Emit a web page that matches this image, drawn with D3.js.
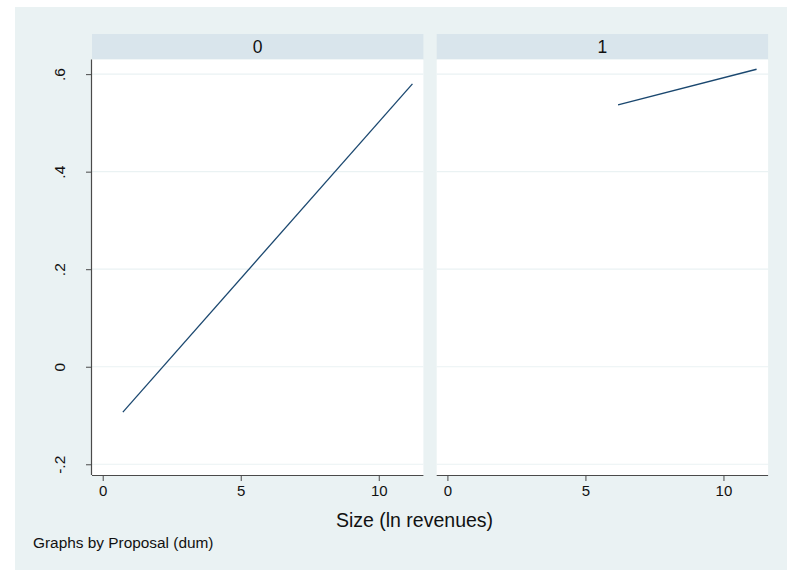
<!DOCTYPE html>
<html>
<head>
<meta charset="utf-8">
<script src="https://cdn.jsdelivr.net/npm/d3@7"></script>
<style>
  html, body { margin: 0; padding: 0; background: #ffffff; }
  svg { display: block; font-family: Arial, "Liberation Sans", Helvetica, sans-serif; }
</style>
</head>
<body>
<svg id="chart" width="787" height="570"></svg>
<script>
// ---- data ----
const panelLabels = ["0", "1"];
const lineX = [[0.73, 11.22], [6.18, 11.20]];
const lineY = [[-0.093, 0.580], [0.537, 0.610]];
const xTicks = [0, 5, 10];
const yTicks = [-0.2, 0, 0.2, 0.4, 0.6];
const yTickLabels = ["-.2", "0", ".2", ".4", ".6"];
const xTitle = "Size (ln revenues)";
const noteText = "Graphs by Proposal (dum)";

// ---- layout ----
const W = 787, H = 570;
const svg = d3.select("#chart");
const colors = { graphBg: "#eaf2f3", strip: "#d9e5ec", grid: "#eaf2f3", line: "#1a476f", axis: "#4a4a4a", text: "#111111" };

svg.append("rect").attr("x", 15).attr("y", 7).attr("width", W - 15).attr("height", H - 7).attr("fill", colors.graphBg);

const panelLefts = [92, 436.7];
const panelWidth = 331.4;
const stripTop = 34, plotTop = 59.5, plotBottom = 475;

const y = d3.scaleLinear().domain([-0.222, 0.630]).range([plotBottom, plotTop]);

panelLabels.forEach((lab, i) => {
  const left = panelLefts[i];
  const x = d3.scaleLinear().domain([-0.388, 11.617]).range([left, left + panelWidth]);
  const g = svg.append("g");

  // strip
  g.append("rect").attr("x", left).attr("y", stripTop).attr("width", panelWidth).attr("height", plotTop - stripTop).attr("fill", colors.strip);
  g.append("text").attr("x", left + panelWidth / 2).attr("y", 53).attr("text-anchor", "middle")
    .attr("font-size", 17.5).attr("fill", colors.text).text(lab);

  // plot region
  g.append("rect").attr("x", left).attr("y", plotTop).attr("width", panelWidth).attr("height", plotBottom - plotTop).attr("fill", "#ffffff");

  // grid
  g.selectAll(".grid").data(yTicks).enter().append("line")
    .attr("x1", left).attr("x2", left + panelWidth)
    .attr("y1", d => y(d)).attr("y2", d => y(d))
    .attr("stroke", colors.grid).attr("stroke-width", 1.2);

  // line
  const pts = lineX[i].map((v, k) => [v, lineY[i][k]]);
  g.append("path").datum(pts)
    .attr("d", d3.line().x(d => x(d[0])).y(d => y(d[1])))
    .attr("fill", "none").attr("stroke", colors.line).attr("stroke-width", 1.3);

  // x axis
  const xa = g.append("g").attr("transform", `translate(0,${plotBottom})`)
    .call(d3.axisBottom(x).tickValues(xTicks).tickFormat(d3.format("d")).tickSize(6).tickPadding(4));
  xa.select(".domain").attr("stroke", colors.axis).attr("stroke-width", 1.2)
    .attr("d", `M${left},0.5H${left + panelWidth}`);
  xa.selectAll(".tick line").attr("stroke", colors.axis).attr("stroke-width", 1);
  xa.selectAll(".tick text").attr("font-size", 15).attr("fill", colors.text);

  if (i === 0) {
    const ya = g.append("g").attr("transform", `translate(${left},0)`)
      .call(d3.axisLeft(y).tickValues(yTicks).tickFormat((d, k) => yTickLabels[k]).tickSize(6).tickPadding(0));
    ya.select(".domain").attr("stroke", colors.axis).attr("stroke-width", 1.2)
      .attr("d", `M-0.5,${plotTop}V${plotBottom}`);
    ya.selectAll(".tick line").attr("stroke", colors.axis).attr("stroke-width", 1);
    ya.selectAll(".tick text")
      .attr("font-size", 15.5).attr("fill", colors.text)
      .attr("x", null).attr("dy", null)
      .attr("text-anchor", "middle")
      .attr("transform", "translate(-27,0) rotate(-90)");
  }
});
svg.selectAll("g").attr("font-family", null);

// titles
svg.append("text").attr("x", 414.5).attr("y", 527).attr("text-anchor", "middle")
  .attr("font-size", 19.5).attr("fill", colors.text).text(xTitle);
svg.append("text").attr("x", 33).attr("y", 548).attr("text-anchor", "start")
  .attr("font-size", 15.4).attr("fill", colors.text).text(noteText);
</script>
</body>
</html>
